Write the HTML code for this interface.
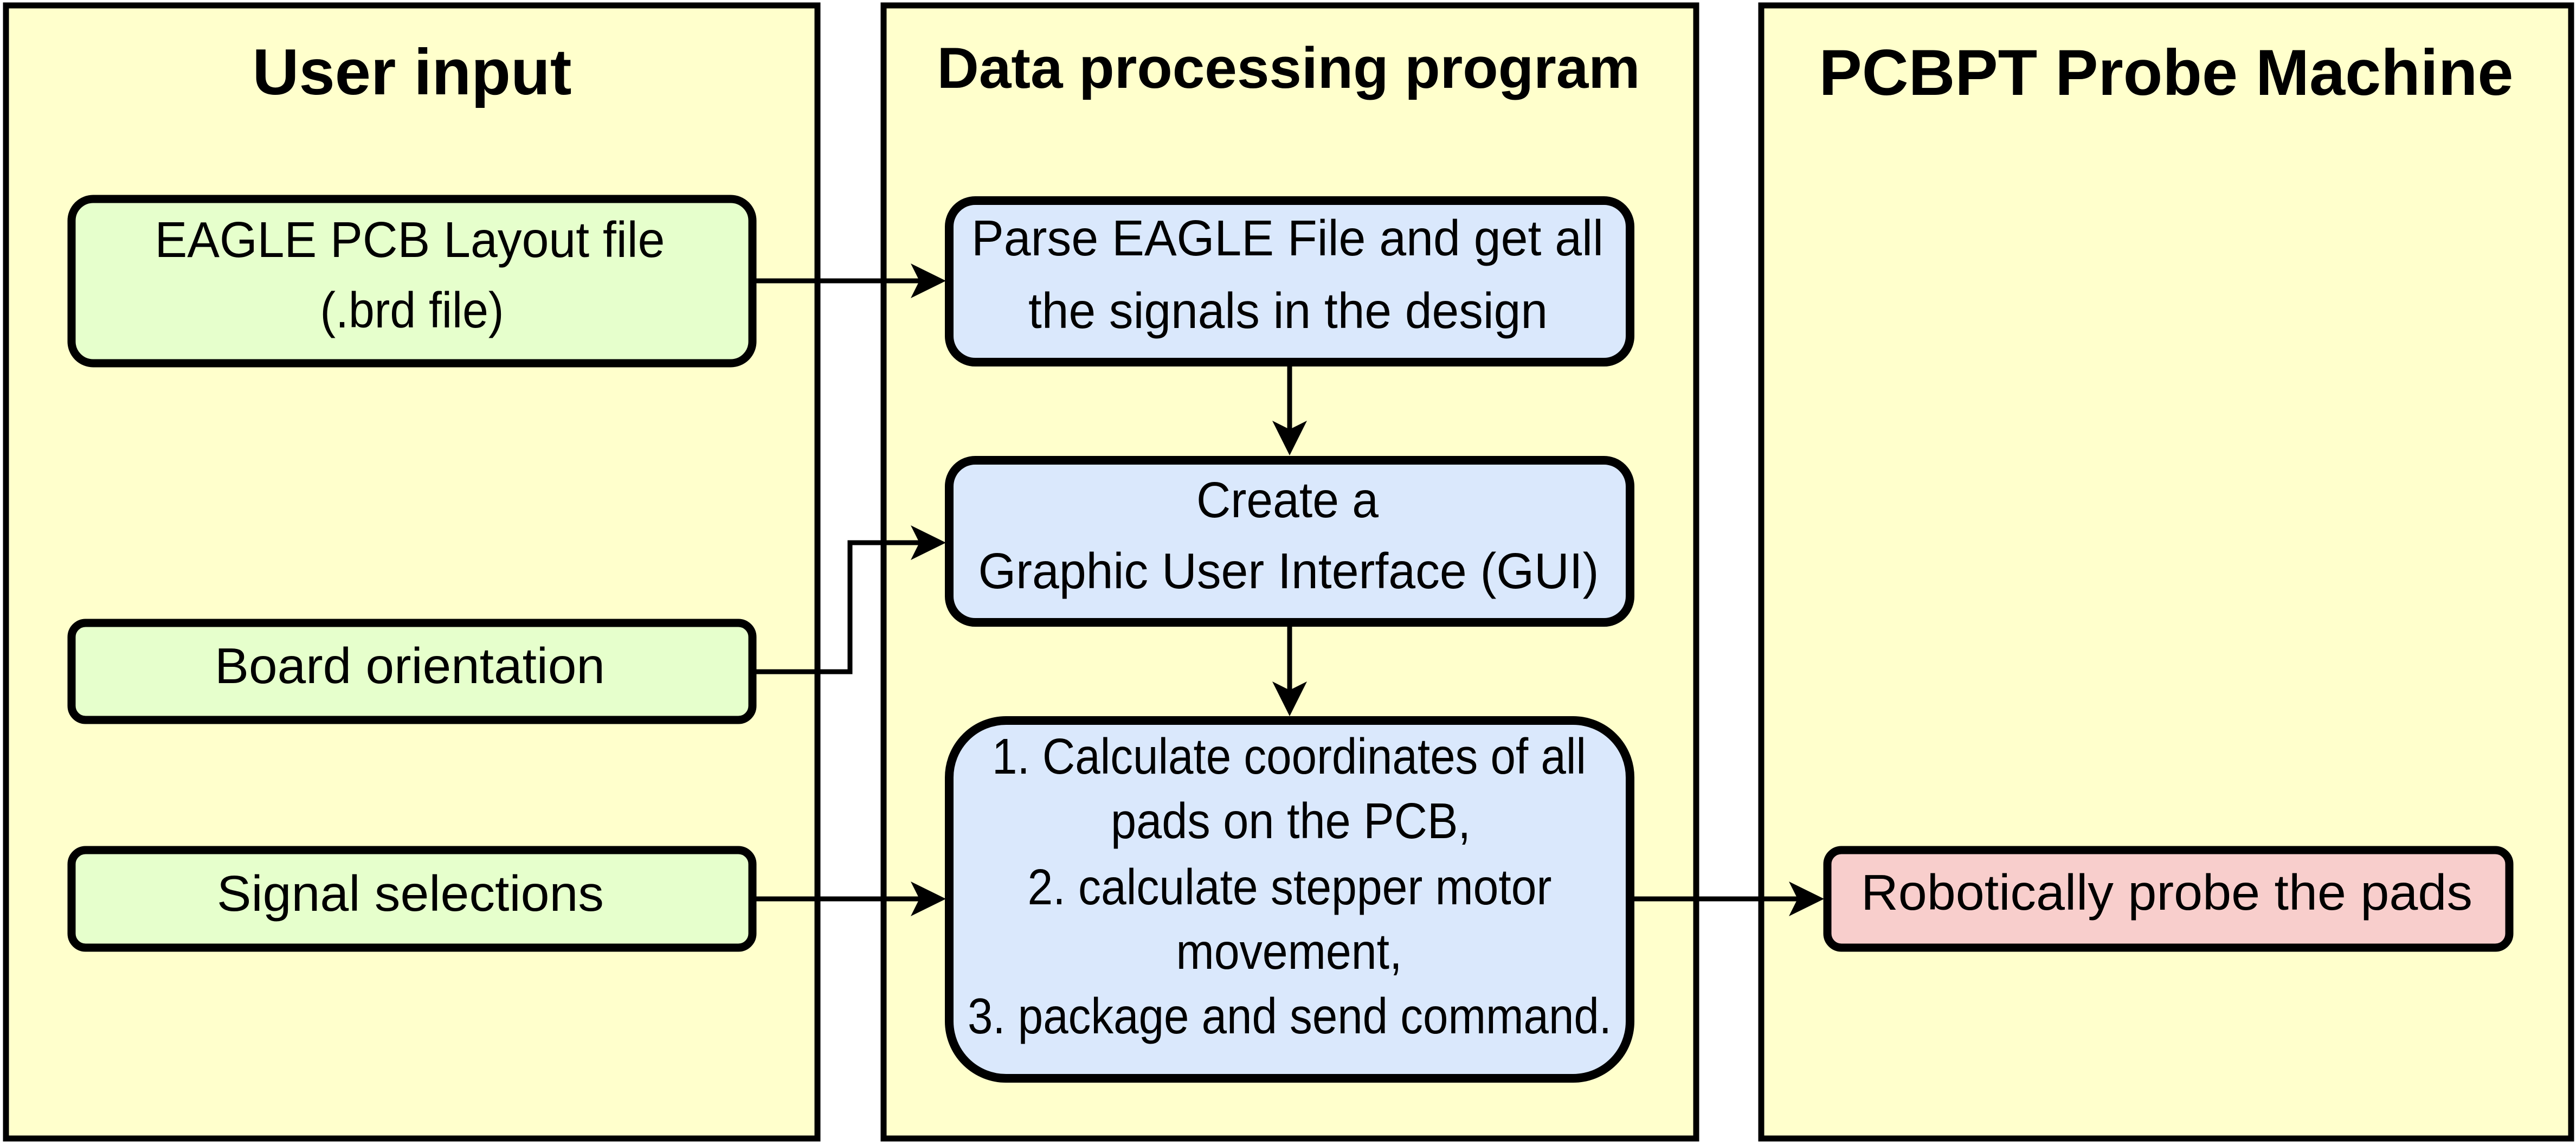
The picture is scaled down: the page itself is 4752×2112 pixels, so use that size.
<!DOCTYPE html>
<html><head><meta charset="utf-8"><style>
html,body{margin:0;padding:0;background:#fff;}
svg{display:block;}
</style></head><body>
<svg width="4752" height="2112" viewBox="0 0 4752 2112" xmlns="http://www.w3.org/2000/svg" font-family="'Liberation Sans', Arial, Helvetica, sans-serif">
<rect width="4752" height="2112" fill="#fff"/>
<!-- panels -->
<rect x="11" y="10" width="1497" height="2090" fill="#FFFFCC" stroke="#000" stroke-width="11"/>
<rect x="1630" y="10" width="1499" height="2090" fill="#FFFFCC" stroke="#000" stroke-width="11"/>
<rect x="3249" y="10" width="1494" height="2090" fill="#FFFFCC" stroke="#000" stroke-width="11"/>
<g font-weight="bold" font-size="120" text-anchor="middle" fill="#000">
<text x="760" y="174" textLength="589" lengthAdjust="spacingAndGlyphs">User input</text>
<text x="2377" y="162" font-size="107" textLength="1297" lengthAdjust="spacingAndGlyphs">Data processing program</text>
<text x="3996" y="175" textLength="1281" lengthAdjust="spacingAndGlyphs">PCBPT Probe Machine</text>
</g>

<!-- connectors -->
<g stroke="#000" stroke-width="9" fill="none">
<line x1="1395" y1="518" x2="1705" y2="518"/>
<polyline points="1395,1239 1568,1239 1568,1001 1705,1001"/>
<line x1="1395" y1="1658" x2="1705" y2="1658"/>
<line x1="2379" y1="676" x2="2379" y2="800"/>
<line x1="2379" y1="1156" x2="2379" y2="1282"/>
<line x1="3014" y1="1658" x2="3325" y2="1658"/>
</g>
<g fill="#000">
<path d="M1745,518 L1680,486 L1696,518 L1680,550 Z"/>
<path d="M1745,1001 L1680,969 L1696,1001 L1680,1033 Z"/>
<path d="M1745,1658 L1680,1626 L1696,1658 L1680,1690 Z"/>
<path d="M2379,840 L2347,776 L2379,792 L2411,776 Z"/>
<path d="M2379,1321 L2347,1257 L2379,1273 L2411,1257 Z"/>
<path d="M3365,1658 L3300,1626 L3316,1658 L3300,1690 Z"/>
</g>

<!-- left boxes -->
<g stroke="#000" stroke-width="15">
<rect x="132" y="367" width="1256" height="303" rx="40" fill="#E6FFCC"/>
<rect x="132" y="1149" width="1256" height="179" rx="26" fill="#E6FFCC"/>
<rect x="132" y="1568" width="1256" height="180" rx="26" fill="#E6FFCC"/>
</g>
<!-- middle boxes -->
<g stroke="#000" stroke-width="16" fill="#DAE8FC">
<rect x="1751" y="370" width="1256" height="298" rx="48"/>
<rect x="1751" y="849" width="1256" height="299" rx="48"/>
<rect x="1751" y="1329" width="1256" height="660" rx="105"/>
</g>
<!-- right box -->
<rect x="3371" y="1568" width="1258" height="180" rx="26" fill="#F8CECC" stroke="#000" stroke-width="15"/>

<g font-size="93" text-anchor="middle" fill="#000">
<text x="756" y="474" textLength="941" lengthAdjust="spacingAndGlyphs">EAGLE PCB Layout file</text>
<text x="760" y="604" textLength="339" lengthAdjust="spacingAndGlyphs">(.brd file)</text>
<text x="756" y="1260" textLength="720" lengthAdjust="spacingAndGlyphs">Board orientation</text>
<text x="757" y="1680" textLength="714" lengthAdjust="spacingAndGlyphs">Signal selections</text>

<text x="2375" y="471" textLength="1166" lengthAdjust="spacingAndGlyphs">Parse EAGLE File and get all</text>
<text x="2376" y="605" textLength="958" lengthAdjust="spacingAndGlyphs">the signals in the design</text>
<text x="2375" y="954" textLength="336" lengthAdjust="spacingAndGlyphs">Create a</text>
<text x="2377" y="1085" textLength="1145" lengthAdjust="spacingAndGlyphs">Graphic User Interface (GUI)</text>
<text x="2378" y="1427" textLength="1096" lengthAdjust="spacingAndGlyphs">1. Calculate coordinates of all</text>
<text x="2381" y="1546" textLength="664" lengthAdjust="spacingAndGlyphs">pads on the PCB,</text>
<text x="2379" y="1668" textLength="967" lengthAdjust="spacingAndGlyphs">2. calculate stepper motor</text>
<text x="2378" y="1787" textLength="417" lengthAdjust="spacingAndGlyphs">movement,</text>
<text x="2379" y="1906" textLength="1188" lengthAdjust="spacingAndGlyphs">3. package and send command.</text>

<text x="3997" y="1678" textLength="1128" lengthAdjust="spacingAndGlyphs">Robotically probe the pads</text>
</g>
</svg>
</body></html>
